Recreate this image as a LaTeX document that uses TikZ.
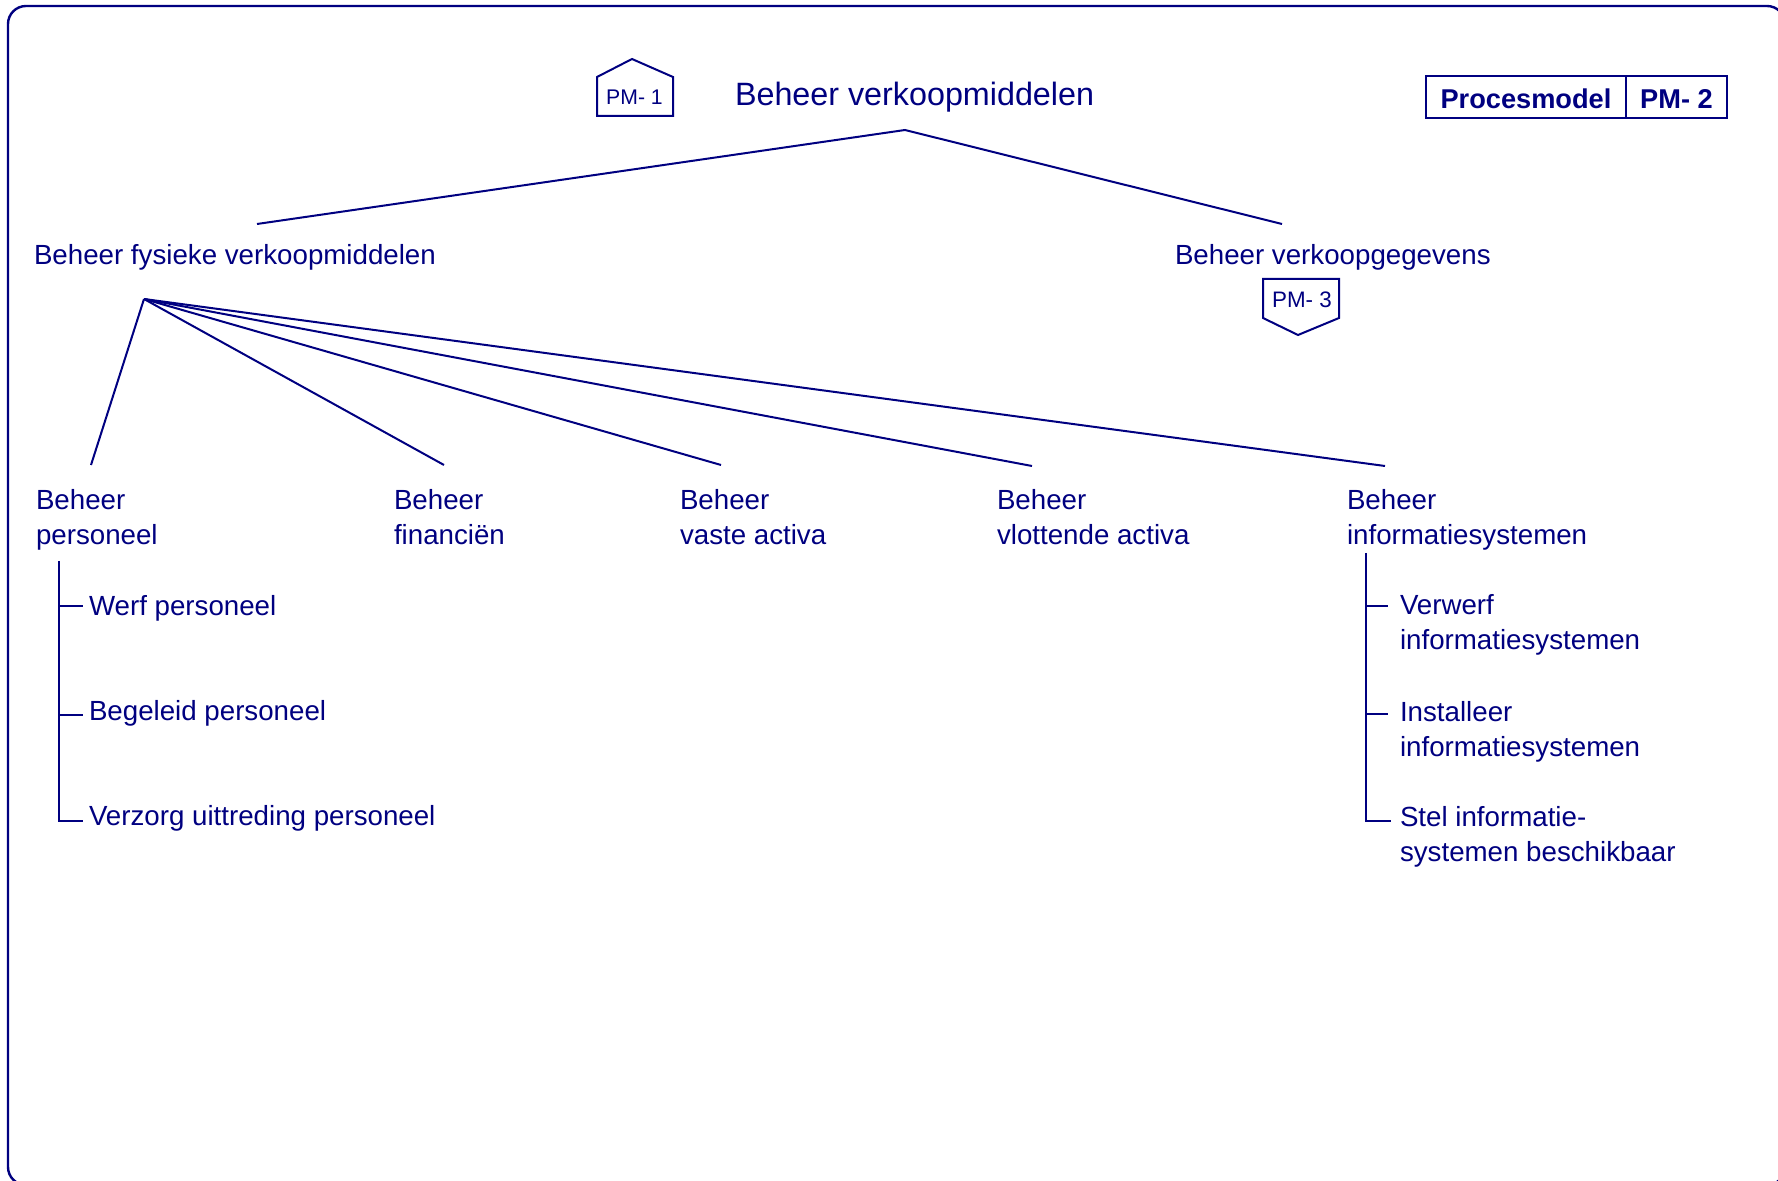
\documentclass[tikz,border=0pt]{standalone}
\usepackage{fontspec}
\setmainfont{Liberation Sans}
\definecolor{navy}{RGB}{0,0,128}
\begin{document}
\begin{tikzpicture}[x=0.5pt,y=-0.5pt,
  line width=1pt, draw=navy, text=navy,
  lbl/.style={anchor=base west, inner sep=0pt, font=\fontsize{13.85}{17.5}\selectfont, align=left},
  ttl/.style={anchor=base west, inner sep=0pt, font=\fontsize{16.15}{19}\selectfont},
  pmtxt/.style={anchor=base, inner sep=0pt, font=\fontsize{10.6}{12}\selectfont},
  cell/.style={draw, inner sep=0pt, text height=16.5pt, text depth=4.5pt, font=\bfseries\fontsize{13.6}{16}\selectfont},
  conn/.style={draw=navy, line width=1pt}
]
\useasboundingbox (0,0) rectangle (1778,1181);
\clip (0,0) rectangle (1778,1181);
% frame
\draw[line width=1.2pt, rounded corners=9pt] (8,6) rectangle (1785,1185);

% header box
\node[cell, minimum width=100pt] (proc) at (1526,97) {Procesmodel};
\node[cell, minimum width=50.5pt] (pm2) at (1676.5,97) {PM- 2};

% title and PM-1 marker
\node[ttl] (root) at (734,106) {Beheer verkoopmiddelen};
\draw (597,116) -- (597,77) -- (632,59) -- (673,77) -- (673,116) -- cycle;
\node[pmtxt] (pm1) at (634.5,105) {PM- 1};

% level 1
\node[lbl] (fys) at (33,265) {Beheer fysieke verkoopmiddelen};
\node[lbl] (geg) at (1174,265) {Beheer verkoopgegevens};
\draw (1263,279) -- (1339,279) -- (1339,318) -- (1298,335) -- (1263,318) -- cycle;
\node[pmtxt, font=\fontsize{11.2}{13}\selectfont] (pm3) at (1302,308) {PM- 3};

\coordinate (apex) at (905,130);
\coordinate (fysT) at (257,224);
\coordinate (gegT) at (1282,224);
\draw[conn] (fysT) -- (apex) -- (gegT);

% level 2 (base anchor = baseline of the last line)
\node[lbl] (pers) at (35,545) {Beheer\\personeel};
\node[lbl] (fin) at (393,545) {Beheer\\financiën};
\node[lbl] (vast) at (679,545) {Beheer\\vaste activa};
\node[lbl] (vlot) at (996,545) {Beheer\\vlottende activa};
\node[lbl] (info) at (1346,545) {Beheer\\informatiesystemen};

\coordinate (fan) at (144,299);
\coordinate (persT) at (91,465);
\coordinate (finT) at (444,465);
\coordinate (vastT) at (721,465);
\coordinate (vlotT) at (1032,466);
\coordinate (infoT) at (1385,466);
\draw[conn] (fan) -- (persT);
\draw[conn] (fan) -- (finT);
\draw[conn] (fan) -- (vastT);
\draw[conn] (fan) -- (vlotT);
\draw[conn] (fan) -- (infoT);

% personeel subtree
\node[lbl] (werf) at (88,616) {Werf personeel};
\node[lbl] (begel) at (88,720) {Begeleid personeel};
\node[lbl] (verz) at (88,825) {Verzorg uittreding personeel};
\coordinate (pv0) at (59,561);
\coordinate (pv1) at (59,606);
\coordinate (pv2) at (59,715);
\coordinate (pv3) at (59,821);
\coordinate (pw) at (83,606);
\coordinate (pb) at (83,715);
\coordinate (pz) at (83,821);
\draw[conn] (pv0) -- (pv3) -- (pz);
\draw[conn] (pv1) -- (pw);
\draw[conn] (pv2) -- (pb);

% informatiesystemen subtree
\node[lbl] (verw) at (1399,650) {Verwerf\\informatiesystemen};
\node[lbl] (inst) at (1399,756) {Installeer\\informatiesystemen};
\node[lbl] (stel) at (1399,861) {Stel informatie-\\systemen beschikbaar};
\coordinate (iv0) at (1366,553);
\coordinate (iv1) at (1366,606);
\coordinate (iv2) at (1366,714);
\coordinate (iv3) at (1366,821);
\coordinate (iw) at (1388,606);
\coordinate (ii) at (1388,714);
\coordinate (is) at (1391,821);
\draw[conn] (iv0) -- (iv3) -- (is);
\draw[conn] (iv1) -- (iw);
\draw[conn] (iv2) -- (ii);
\end{tikzpicture}
\end{document}
